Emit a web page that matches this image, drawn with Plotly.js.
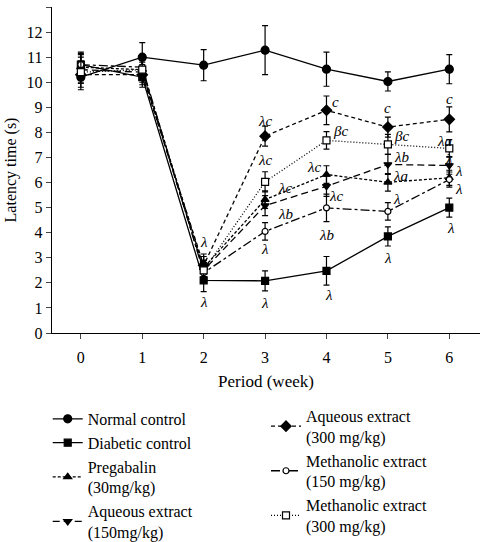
<!DOCTYPE html>
<html>
<head>
<meta charset="utf-8">
<script src="https://cdn.plot.ly/plotly-3.0.1.min.js"></script>
<style>html,body{margin:0;padding:0;background:#fff;}#chart{width:480px;height:542px;}</style>
</head>
<body>
<div id="chart"></div>
<script>
// ---- data ----
const weeks = [0, 1, 2, 3, 4, 5, 6];
const xTickLabels = ['0', '1', '2', '3', '4', '5', '6'];
const seriesNames = ['Normal control', 'Diabetic control', 'Pregabalin<br>(30mg/kg)', 'Aqueous extract<br>(150mg/kg)',
  'Aqueous extract<br>(300 mg/kg)', 'Methanolic extract<br>(150 mg/kg)', 'Methanolic extract<br>(300 mg/kg)'];
const normalMean = [10.2, 11.0, 10.68, 11.28, 10.52, 10.03, 10.52];
const normalErr = [0.5, 0.58, 0.62, 0.98, 0.68, 0.38, 0.58];
const diabeticMean = [10.7, 10.2, 2.1, 2.08, 2.48, 3.85, 5.0];
const diabeticErr = [0.5, 0.4, 0.45, 0.4, 0.57, 0.38, 0.38];
const pregabalinMean = [10.6, 10.5, 2.6, 5.32, 6.32, 6.01, 6.19];
const pregabalinErr = [0.5, 0.4, 0.45, 0.35, 0.35, 0.35, 0.3];
const aq150Mean = [10.5, 10.4, 2.5, 5.08, 5.85, 6.72, 6.68];
const aq150Err = [0.5, 0.4, 0.4, 0.4, 0.4, 0.4, 0.35];
const aq300Mean = [10.3, 10.3, 2.7, 7.85, 8.88, 8.21, 8.52];
const aq300Err = [0.5, 0.4, 0.45, 0.4, 0.57, 0.4, 0.5];
const meth150Mean = [10.7, 10.6, 2.4, 4.05, 4.99, 4.85, 6.12];
const meth150Err = [0.45, 0.4, 0.4, 0.35, 0.55, 0.35, 0.3];
const meth300Mean = [10.4, 10.5, 2.5, 6.03, 7.68, 7.52, 7.36];
const meth300Err = [0.45, 0.4, 0.4, 0.4, 0.35, 0.4, 0.35];
// significance labels per series, per week
const normalLabels = ['', '', '', '', '', '', ''];
const diabeticLabels = ['', '', 'λ', 'λ', 'λ', 'λ', 'λ'];
const pregabalinLabels = ['', '', '', 'λc', 'λc', 'λa', 'λ'];
const aq150Labels = ['', '', '', 'λb', 'λc', 'λb', 'λ'];
const aq300Labels = ['', '', 'λ', 'λc', 'c', 'c', 'c'];
const meth150Labels = ['', '', '', 'λ', 'λb', 'λ', 'λ'];
const meth300Labels = ['', '', '', 'λc', 'βc', 'βc', 'λa'];

// ---- styling ----
const FONT = 'Liberation Serif, Times New Roman, serif';
const means = [normalMean, diabeticMean, pregabalinMean, aq150Mean, aq300Mean, meth150Mean, meth300Mean];
const errs = [normalErr, diabeticErr, pregabalinErr, aq150Err, aq300Err, meth150Err, meth300Err];
const labels = [normalLabels, diabeticLabels, pregabalinLabels, aq150Labels, aq300Labels, meth150Labels, meth300Labels];
const styles = [
  {symbol: 'circle', size: 8, fill: '#000', dash: 'solid', legend: 'legend'},
  {symbol: 'square', size: 7, fill: '#000', dash: 'solid', legend: 'legend'},
  {symbol: 'triangle-up', size: 7, fill: '#000', dash: '3px,2px', legend: 'legend'},
  {symbol: 'triangle-down', size: 7, fill: '#000', dash: '7px,4px', legend: 'legend'},
  {symbol: 'diamond', size: 8, fill: '#000', dash: '4px,3px', legend: 'legend2'},
  {symbol: 'circle', size: 6, fill: '#fff', dash: 'dashdot', legend: 'legend2'},
  {symbol: 'square', size: 7, fill: '#fff', dash: '1px,2px', legend: 'legend2'}
];
// label offsets in px [xshift, yshift] per series per week
const offsets = [
  [],
  [null, null, [0, -22], [0, -22], [3, -24], [0, -22], [2, -20]],
  [null, null, null, [20, 12], [-12, 8], [13, 6], [10, 7]],
  [null, null, null, [20, -8], [10, -10], [14, 7], [0, 6]],
  [null, null, [0, 23], [0, 15], [9, 8], [0, 19], [0, 20]],
  [null, null, null, [0, -18], [0, -27], [9, 12], [10, -9]],
  [null, null, null, [0, 22], [14, 9], [14, 8], [-5, 7]]
];

const traces = means.map((m, i) => ({
  x: weeks, y: m, name: seriesNames[i], type: 'scatter', mode: 'lines+markers',
  legend: styles[i].legend,
  line: {color: '#000', width: 1.3, dash: styles[i].dash},
  marker: {symbol: styles[i].symbol, size: styles[i].size, color: styles[i].fill,
           line: {color: '#000', width: 1.2}},
  error_y: {type: 'data', array: errs[i], visible: true, color: '#000', thickness: 1.2, width: 3}
}));
const annotations = [];
labels.forEach((lab, i) => {
  lab.forEach((t, j) => {
    if (!t) return;
    const o = offsets[i][j];
    annotations.push({x: weeks[j], y: means[i][j], xref: 'x', yref: 'y', text: '<i>' + t + '</i>',
      showarrow: false, xanchor: 'center', yanchor: 'middle', xshift: o[0], yshift: o[1],
      font: {family: FONT, size: 15, color: '#000'}});
  });
});

const layout = {
  width: 480, height: 542,
  margin: {l: 52, r: 0, t: 7, b: 209, autoexpand: false},
  paper_bgcolor: '#fff', plot_bgcolor: '#fff',
  font: {family: FONT, size: 16, color: '#000'},
  showlegend: true,
  xaxis: {range: [-0.47, 6.5], tickvals: weeks, ticktext: xTickLabels, ticks: 'outside', ticklen: 5, tickwidth: 1,
    ticklabelstandoff: 4,
    showgrid: false, zeroline: false, showline: true, linecolor: '#000', linewidth: 1.3,
    title: {text: 'Period (week)', font: {family: FONT, size: 17}, standoff: 10}, tickfont: {family: FONT, size: 16}},
  yaxis: {range: [0, 13], dtick: 1, tick0: 0, ticks: 'outside', ticklen: 5, tickwidth: 1,
    showgrid: false, zeroline: false, showline: true, linecolor: '#000', linewidth: 1.3,
    title: {text: 'Latency time (s)', font: {family: FONT, size: 16}, standoff: 6}, tickfont: {family: FONT, size: 16}},
  legend: {x: -0.01, y: -0.2115, xanchor: 'left', yanchor: 'top', font: {family: FONT, size: 16}, itemwidth: 30,
    bgcolor: 'rgba(0,0,0,0)', tracegroupgap: 0, traceorder: 'normal'},
  legend2: {x: 0.5, y: -0.202, xanchor: 'left', yanchor: 'top', font: {family: FONT, size: 16}, itemwidth: 30,
    bgcolor: 'rgba(0,0,0,0)', tracegroupgap: 0, traceorder: 'normal'},
  annotations: annotations
};
Plotly.newPlot('chart', traces, layout, {displayModeBar: false, staticPlot: true});
</script>
</body>
</html>
